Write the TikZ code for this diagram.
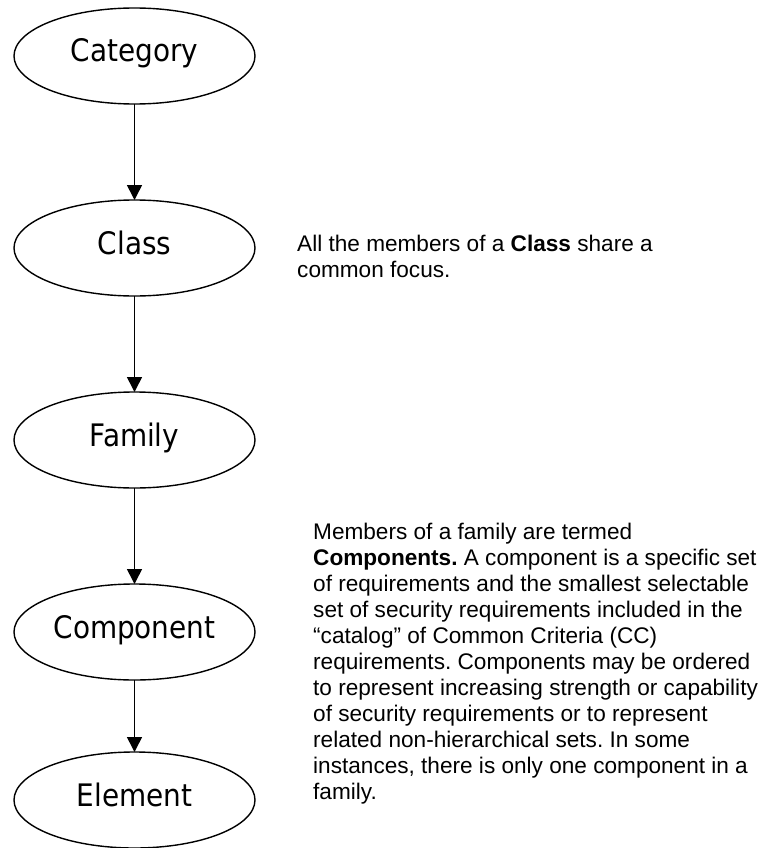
\documentclass[tikz,border=0pt]{standalone}
\usepackage{fontspec}
\setmainfont{Liberation Sans}
\newfontfamily\ellfont{DejaVu Sans Condensed}
\usetikzlibrary{shapes.geometric,arrows.meta}
\newcommand\myline[1]{\hbox{#1}}
\frenchspacing
\begin{document}
\begin{tikzpicture}[x=1pt,y=-1pt,
  level/.style={ellipse,draw,line width=1.4pt,inner sep=0pt,outer sep=0pt,
    minimum width=241pt,minimum height=96pt,
    font=\ellfont\fontsize{31}{34}\selectfont,text height=23pt,text depth=11pt},
  arr/.style={line width=1.6pt,-{Triangle[length=15pt,width=15pt]}},
  note/.style={inner sep=0pt,anchor=base west,font=\fontsize{22.6}{26}\selectfont}]
\useasboundingbox (0,0) rectangle (766,848);
\node[level] (cat) at (134.5,56) {Category};
\node[level] (cls) at (134.5,248) {Class};
\node[level] (fam) at (134.5,440) {Family};
\node[level] (cmp) at (134.5,632) {Component};
\node[level] (elm) at (134.5,800) {Element};
\draw[arr] (cat.south) -- (cls.north);
\draw[arr] (cls.south) -- (fam.north);
\draw[arr] (fam.south) -- (cmp.north);
\draw[arr] (cmp.south) -- (elm.north);
\node[note] (n1) at (297,251) {\vtop{%
  \myline{All the members of a \textbf{Class} share a}
  \myline{common focus.}}};
\node[note] (n2) at (313,539) {\vtop{%
  \myline{Members of a family are termed}
  \myline{\textbf{Components.} A component is a specific set}
  \myline{of requirements and the smallest selectable}
  \myline{set of security requirements included in the}
  \myline{“catalog” of Common Criteria (CC)}
  \myline{requirements. Components may be ordered}
  \myline{to represent increasing strength or capability}
  \myline{of security requirements or to represent}
  \myline{related non-hierarchical sets. In some}
  \myline{instances, there is only one component in a}
  \myline{family.}}};
\end{tikzpicture}
\end{document}
